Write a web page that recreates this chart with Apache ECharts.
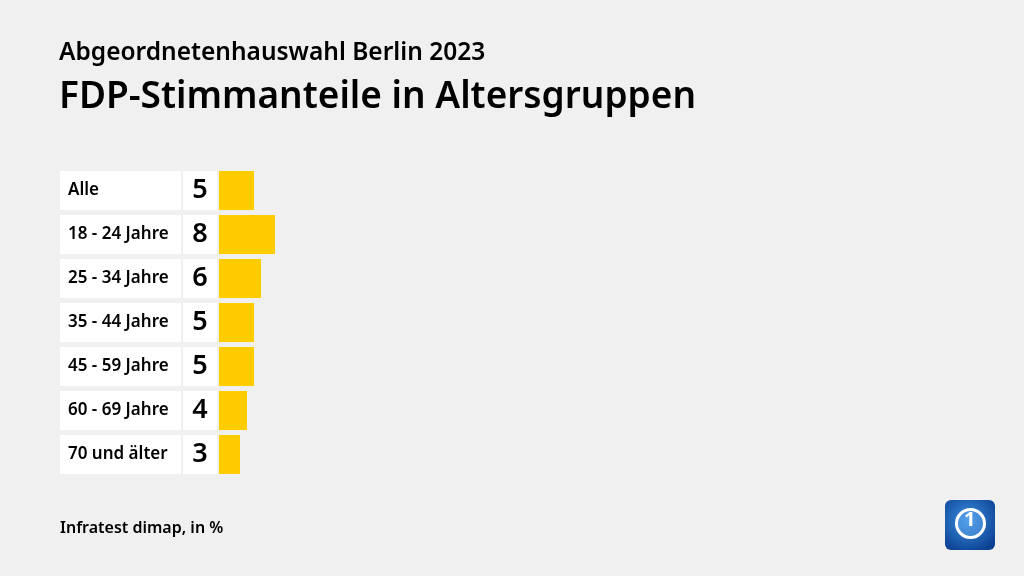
<!DOCTYPE html>
<html>
<head>
<meta charset="utf-8">
<script src="https://cdn.jsdelivr.net/npm/echarts@6/dist/echarts.min.js"></script>
<style>
  html, body { margin: 0; padding: 0; background: #f0f0f0; }
  #chart { width: 1024px; height: 576px; }
</style>
</head>
<body>
<div id="chart"></div>
<script>
// data
const categories = ['Alle', '18 - 24 Jahre', '25 - 34 Jahre', '35 - 44 Jahre', '45 - 59 Jahre', '60 - 69 Jahre', '70 und älter'];
const values = [5, 8, 6, 5, 5, 4, 3];
const titleText = 'Abgeordnetenhauswahl Berlin 2023';
const subtitleText = 'FDP-Stimmanteile in Altersgruppen';
const sourceText = 'Infratest dimap, in %';

const font = '"Noto Sans", sans-serif';
const gridTop = 168.5, gridHeight = 308;
const ones = categories.map(() => 1);

const chart = echarts.init(document.getElementById('chart'));

const grids = [
  { left: 60, top: gridTop, width: 121, height: gridHeight },
  { left: 183, top: gridTop, width: 34, height: gridHeight },
  { left: 219, top: gridTop, width: 700, height: gridHeight }
];

const xAxes = grids.map((g, i) => ({
  type: 'value', gridIndex: i, min: 0, max: i === 2 ? 100 : 1,
  show: false
}));
const yAxes = grids.map((g, i) => ({
  type: 'category', gridIndex: i, data: categories, inverse: true,
  show: false
}));

chart.setOption({
  backgroundColor: '#f0f0f0',
  animation: false,
  title: [
    { text: titleText, left: 59, top: 41, padding: 0,
      textStyle: { fontFamily: font, fontSize: 24.5, fontWeight: 600, color: '#000' } },
    { text: subtitleText, left: 59, top: 79, padding: 0,
      textStyle: { fontFamily: font, fontSize: 37, fontWeight: 600, color: '#000' } },
    { text: sourceText, left: 60, top: 520, padding: 0,
      textStyle: { fontFamily: font, fontSize: 16, fontWeight: 600, color: '#000' } }
  ],
  grid: grids,
  xAxis: xAxes,
  yAxis: yAxes,
  series: [
    {
      type: 'bar', xAxisIndex: 0, yAxisIndex: 0, data: ones, barWidth: 39,
      itemStyle: { color: '#fff' },
      label: {
        show: true, position: 'insideLeft', distance: 8,
        formatter: p => categories[p.dataIndex],
        fontFamily: font, fontSize: 17, fontWeight: 600, color: '#000'
      }
    },
    {
      type: 'bar', xAxisIndex: 1, yAxisIndex: 1, data: ones, barWidth: 39,
      itemStyle: { color: '#fff' },
      label: {
        show: true, position: 'inside',
        formatter: p => String(values[p.dataIndex]),
        fontFamily: font, fontSize: 27, fontWeight: 600, color: '#000'
      }
    },
    {
      type: 'bar', xAxisIndex: 2, yAxisIndex: 2, data: values, barWidth: 39,
      itemStyle: { color: '#ffcc00' }
    }
  ],
  graphic: [
    {
      type: 'rect', left: 945, top: 500,
      shape: { width: 50, height: 50, r: 6 },
      style: {
        fill: new echarts.graphic.RadialGradient(0.45, 0.4, 0.7, [
          { offset: 0, color: '#3d8fe0' },
          { offset: 1, color: '#0a3f91' }
        ])
      }
    },
    {
      type: 'circle', left: 955, top: 508,
      shape: { r: 14 },
      style: { fill: 'rgba(120,190,255,0.35)', stroke: '#fff', lineWidth: 3 }
    },
    {
      type: 'text', left: 964, top: 510,
      style: { text: '1', fill: '#fff', font: 'bold 20px "Noto Sans"' }
    }
  ]
});
</script>
</body>
</html>
